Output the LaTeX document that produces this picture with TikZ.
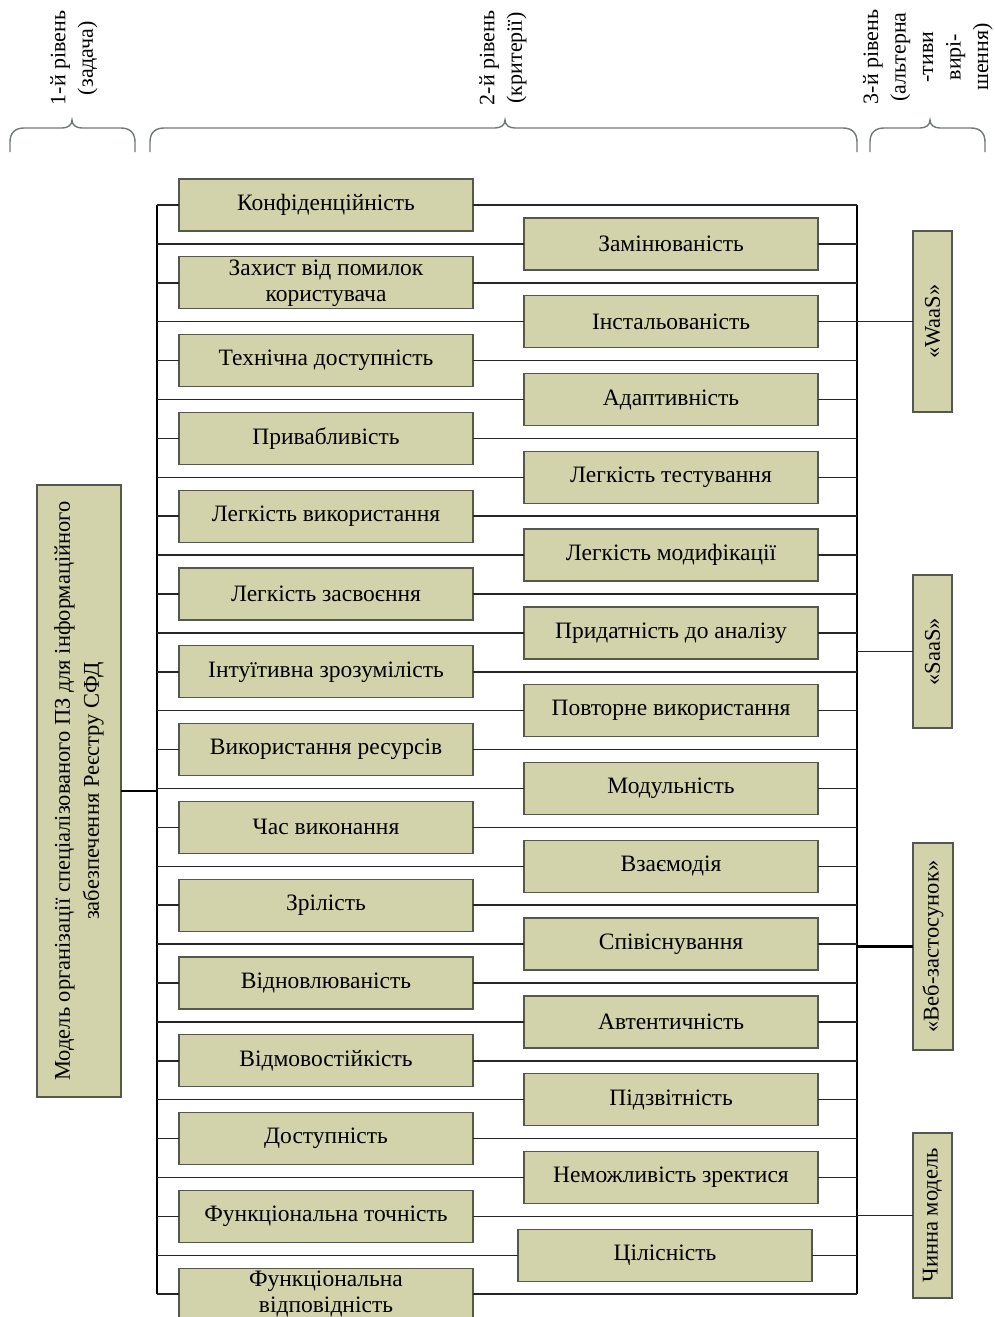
\documentclass[tikz,border=0pt]{standalone}
\usepackage{fontspec}
\setmainfont{Liberation Serif}
\usetikzlibrary{positioning}

\definecolor{boxfill}{RGB}{210,211,170}
\definecolor{boxline}{RGB}{85,88,78}
\definecolor{bracegray}{RGB}{112,120,120}

\tikzset{
	crit/.style={draw=boxline,fill=boxfill,line width=1.3pt,minimum width=294pt,
		minimum height=52pt,inner sep=0pt,outer sep=0pt,align=center,
		font=\fontsize{23.5}{26}\selectfont},
	alt/.style={draw=boxline,fill=boxfill,line width=1.3pt,inner sep=0pt,
		outer sep=0pt,rotate=90,align=center,font=\fontsize{22.5}{29}\selectfont},
	level/.style={rotate=90,align=center,font=\fontsize{22}{27.5}\selectfont},
	link/.style={draw=black!85,line width=1.5pt},
	bus/.style={draw=black,line width=2pt},
	mainlink/.style={draw=black,line width=2.6pt},
	lbrace/.style={draw=bracegray,line width=1.4pt},
}

\begin{document}
\begin{tikzpicture}[x=1pt,y=-1pt]

\useasboundingbox (0,0) rectangle (995,1317);

% levels
\node[level] (lev1) at (74,58) {1-й рівень\\(задача)};
\node[level] (lev2) at (503,58) {2-й рівень\\(критерії)};
\node[level] (lev3) at (928,57) {3-й рівень\\(альтерна\\-тиви\\вирі-\\шення)};

\draw[lbrace] (10,152) -- (10,142) .. controls (10,133) and (15,128) .. (24,128) -- (62,128)
	.. controls (68,128) and (72,125) .. (72,120) .. controls (72,125) and (76,128) .. (82,128)
	-- (121,128) .. controls (130,128) and (135,133) .. (135,142) -- (135,152);
\draw[lbrace] (150,152) -- (150,142) .. controls (150,133) and (155,128) .. (164,128) -- (495,128)
	.. controls (501,128) and (505,125) .. (505,120) .. controls (505,125) and (509,128) .. (515,128)
	-- (843,128) .. controls (852,128) and (857,133) .. (857,142) -- (857,152);
\draw[lbrace] (870,152) -- (870,142) .. controls (870,133) and (875,128) .. (884,128) -- (920,128)
	.. controls (926,128) and (930,125) .. (930,120) .. controls (930,125) and (934,128) .. (940,128)
	-- (971,128) .. controls (980,128) and (985,133) .. (985,142) -- (985,152);

% 1st level
\node[alt,minimum width=612pt,minimum height=84pt] (model) at (79,791)
	{Модель організації спеціалізованого ПЗ для інформаційного\\забезпечення Реєстру СФД};

% 2nd level
\node[crit] (l1) at (326,205) {Конфіденційність};
\node[crit] (l2) [below=25.8pt of l1] {Захист від помилок\\користувача};
\node[crit] (l3) [below=25.8pt of l2] {Технічна доступність};
\node[crit] (l4) [below=25.8pt of l3] {Привабливість};
\node[crit] (l5) [below=25.8pt of l4] {Легкість використання};
\node[crit] (l6) [below=25.8pt of l5] {Легкість засвоєння};
\node[crit] (l7) [below=25.8pt of l6] {Інтуїтивна зрозумілість};
\node[crit] (l8) [below=25.8pt of l7] {Використання ресурсів};
\node[crit] (l9) [below=25.8pt of l8] {Час виконання};
\node[crit] (l10) [below=25.8pt of l9] {Зрілість};
\node[crit] (l11) [below=25.8pt of l10] {Відновлюваність};
\node[crit] (l12) [below=25.8pt of l11] {Відмовостійкість};
\node[crit] (l13) [below=25.8pt of l12] {Доступність};
\node[crit] (l14) [below=25.8pt of l13] {Функціональна точність};
\node[crit] (l15) [below=25.8pt of l14] {Функціональна\\відповідність};

\node[crit] (r1) [right=51pt of l1,yshift=-38.9pt] {Замінюваність};
\node[crit] (r2) [below=25.8pt of r1] {Інстальованість};
\node[crit] (r3) [below=25.8pt of r2] {Адаптивність};
\node[crit] (r4) [below=25.8pt of r3] {Легкість тестування};
\node[crit] (r5) [below=25.8pt of r4] {Легкість модифікації};
\node[crit] (r6) [below=25.8pt of r5] {Придатність до аналізу};
\node[crit] (r7) [below=25.8pt of r6] {Повторне використання};
\node[crit] (r8) [below=25.8pt of r7] {Модульність};
\node[crit] (r9) [below=25.8pt of r8] {Взаємодія};
\node[crit] (r10) [below=25.8pt of r9] {Співіснування};
\node[crit] (r11) [below=25.8pt of r10] {Автентичність};
\node[crit] (r12) [below=25.8pt of r11] {Підзвітність};
\node[crit] (r13) [below=25.8pt of r12] {Неможливість зректися};
\node[crit] (r14) [below=25.8pt of r13,xshift=-6pt] {Цілісність};

% 3rd level
\node[alt,minimum width=181pt,minimum height=39pt] (waas) at (932.5,321.5) {«WaaS»};
\node[alt,minimum width=153pt,minimum height=39pt] (saas) at (932.5,651.5) {«SaaS»};
\node[alt,minimum width=207pt,minimum height=40pt] (web) at (933,946.5) {«Веб-застосунок»};
\node[alt,minimum width=165pt,minimum height=39pt] (chinna) at (932.5,1215.5) {Чинна модель};

% buses
\coordinate (lx) at (157,0);
\coordinate (rx) at (857,0);
\draw[bus] (l1 -| lx) -- (l15 -| lx);
\draw[bus] (l1 -| rx) -- (l15 -| rx);

\path[link]
	(l1) edge (l1 -| lx) (l1) edge (l1 -| rx)
	(l2) edge (l2 -| lx) (l2) edge (l2 -| rx)
	(l3) edge (l3 -| lx) (l3) edge (l3 -| rx)
	(l4) edge (l4 -| lx) (l4) edge (l4 -| rx)
	(l5) edge (l5 -| lx) (l5) edge (l5 -| rx)
	(l6) edge (l6 -| lx) (l6) edge (l6 -| rx)
	(l7) edge (l7 -| lx) (l7) edge (l7 -| rx)
	(l8) edge (l8 -| lx) (l8) edge (l8 -| rx)
	(l9) edge (l9 -| lx) (l9) edge (l9 -| rx)
	(l10) edge (l10 -| lx) (l10) edge (l10 -| rx)
	(l11) edge (l11 -| lx) (l11) edge (l11 -| rx)
	(l12) edge (l12 -| lx) (l12) edge (l12 -| rx)
	(l13) edge (l13 -| lx) (l13) edge (l13 -| rx)
	(l14) edge (l14 -| lx) (l14) edge (l14 -| rx)
	(l15) edge (l15 -| lx) (l15) edge (l15 -| rx)
	(r1) edge (r1 -| lx) (r1) edge (r1 -| rx)
	(r2) edge (r2 -| lx) (r2) edge (r2 -| rx)
	(r3) edge (r3 -| lx) (r3) edge (r3 -| rx)
	(r4) edge (r4 -| lx) (r4) edge (r4 -| rx)
	(r5) edge (r5 -| lx) (r5) edge (r5 -| rx)
	(r6) edge (r6 -| lx) (r6) edge (r6 -| rx)
	(r7) edge (r7 -| lx) (r7) edge (r7 -| rx)
	(r8) edge (r8 -| lx) (r8) edge (r8 -| rx)
	(r9) edge (r9 -| lx) (r9) edge (r9 -| rx)
	(r10) edge (r10 -| lx) (r10) edge (r10 -| rx)
	(r11) edge (r11 -| lx) (r11) edge (r11 -| rx)
	(r12) edge (r12 -| lx) (r12) edge (r12 -| rx)
	(r13) edge (r13 -| lx) (r13) edge (r13 -| rx)
	(r14) edge (r14 -| lx) (r14) edge (r14 -| rx)
	(waas) edge (waas -| rx)
	(saas) edge (saas -| rx)
	(chinna) edge (chinna -| rx)
;

\path[mainlink]
	(model) edge (model -| lx)
	(web) edge (web -| rx)
;

\end{tikzpicture}
\end{document}
